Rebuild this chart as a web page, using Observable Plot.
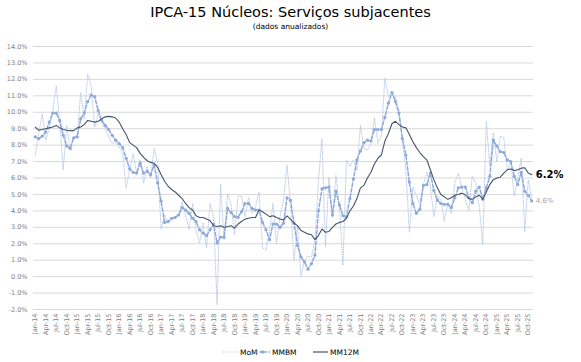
<!DOCTYPE html>
<html><head><meta charset="utf-8">
<script src="https://cdn.jsdelivr.net/npm/d3@7"></script>
<script src="https://cdn.jsdelivr.net/npm/@observablehq/plot@0.6"></script>
<style>
body{margin:0;background:#fff;}
#wrap{position:relative;width:581px;height:362px;font-family:"DejaVu Sans",Verdana,sans-serif;overflow:hidden;}
#title{position:absolute;top:4px;left:0;width:581px;text-align:center;font-size:14.5px;color:#000;line-height:17px;}
#subtitle{position:absolute;top:22px;left:0;width:581px;text-align:center;font-size:7.5px;color:#000;line-height:9px;}
#chart{position:absolute;top:0;left:0;}
#legend{position:absolute;top:346px;left:0;width:581px;height:12px;font-size:7.5px;color:#000;}
.li{position:absolute;top:0;display:flex;align-items:center;height:12px;}
.li svg{margin-right:2px;}
</style></head>
<body><div id="wrap">
<div id="chart"></div>
<div id="title">IPCA-15 Núcleos: Serviços subjacentes</div>
<div id="subtitle">(dados anualizados)</div>
<div id="legend"></div>
</div>
<script>
const monthNames = ["Jan","Feb","Mar","Apr","May","Jun","Jul","Aug","Sep","Oct","Nov","Dec"];
const years = ["14","15","16","17","18","19","20","21","22","23","24","25"];
const months = [];
years.forEach(y => monthNames.forEach(m => months.push(m + "-" + y)));
months.splice(months.indexOf("Nov-25") + 1);
const tickLabels = months.filter(m => /^(Jan|Apr|Jul|Oct)-/.test(m));
const yTicks = [-2,-1,0,1,2,3,4,5,6,7,8,9,10,11,12,13,14];

const mom = [
 7.4, 8.7, 9.9, 8.3, 9.0, 10.0, 11.6, 9.5, 6.5, 9.2, 7.7, 8.5,
 8.6, 11.2, 9.6, 12.3, 11.6, 9.1, 9.9, 9.4, 9.0, 8.5, 8.1, 8.2,
 7.9, 7.5, 5.4, 6.5, 7.5, 6.3, 7.1, 5.7, 6.7, 6.0, 7.8, 6.9,
 2.9, 3.75, 3.25, 3.45, 3.65, 3.75, 4.55, 3.75, 2.85, 4.45, 2.85, 2.05,
 3.25, 1.75, 4.45, 3.65, -1.7, 5.6, 2.25, 5.05, 4.4, 2.55, 4.9, 4.9,
 3.65, 4.8, 3.85, 4.25, 5.15, 1.75, 1.6, 2.75, 4.45, 2.0, 3.65, 4.65,
 6.8, 4.45, 1.0, 3.05, 0.0, 1.0, 1.25, 1.2, 2.2, 5.85, 8.4, 1.8,
 6.05, 3.6, 6.15, 4.25, 0.7, 7.1, 6.7, 7.1, 6.45, 9.2, 7.8, 7.7,
 8.1, 9.65, 8.1, 8.6, 12.1, 10.95, 11.25, 10.95, 10.15, 8.3, 6.5, 2.7,
 5.45, 4.9, 4.45, 5.6, 6.35, 5.5, 3.65, 4.9, 4.7, 3.35, 4.5, 3.85,
 5.7, 6.3, 5.4, 4.7, 4.05, 6.1, 5.7, 4.2, 1.95, 9.45, 6.7, 8.75,
 7.0, 8.55, 8.45, 6.5, 6.9, 4.9, 6.0, 7.2, 2.75, 5.9, 4.7
];
const mmbm = [
 8.5, 8.4, 8.55, 8.8, 9.4, 9.95, 9.95, 9.5, 8.6, 7.95, 7.8, 8.45,
 8.5, 9.6, 9.95, 10.65, 11.05, 10.95, 10.1, 9.5, 9.2, 8.95, 8.6, 8.3,
 8.1, 7.85, 7.2, 6.55, 6.35, 6.3, 6.9, 6.3, 6.4, 6.2, 6.8, 5.7,
 4.6, 3.3, 3.35, 3.55, 3.6, 3.75, 4.2, 4.05, 3.85, 3.55, 3.35, 2.85,
 2.65, 2.5, 2.85, 3.2, 2.05, 2.4, 2.4, 4.15, 3.9, 3.65, 3.6, 3.95,
 4.45, 4.45, 4.15, 4.05, 4.05, 3.3, 2.85, 2.25, 3.2, 3.2, 3.0, 3.25,
 4.8, 4.65, 3.25, 1.9, 1.2, 0.9, 0.45, 0.8, 1.3, 4.0, 5.35, 5.4,
 5.45, 3.75, 5.2, 4.35, 3.7, 3.65, 4.75, 5.95, 7.1, 7.65, 8.15, 8.3,
 8.25, 8.95, 8.95, 8.95, 9.7, 10.55, 11.2, 10.65, 9.95, 8.4, 7.4, 5.75,
 4.45, 3.85, 4.1, 5.55, 5.6, 6.3, 5.25, 4.65, 4.45, 4.4, 4.4, 4.2,
 4.8, 5.4, 5.45, 5.45, 4.8, 4.5, 5.2, 5.45, 4.7, 5.4, 6.1, 8.3,
 7.95, 7.6, 7.55, 7.1, 7.0, 6.1, 5.6, 6.35, 5.2, 4.95, 4.6
];
const mm12m = [
 9.1, 8.9, 8.95, 9.0, 9.05, 9.1, 9.2, 9.05, 8.95, 8.9, 8.88, 8.88,
 9.05, 9.1, 9.25, 9.5, 9.45, 9.4, 9.45, 9.6, 9.72, 9.75, 9.72, 9.65,
 9.4, 9.0, 8.65, 8.15, 8.0, 7.85, 7.5, 7.25, 7.05, 6.95, 6.9, 6.65,
 6.2, 5.8, 5.5, 5.3, 5.15, 4.95, 4.75, 4.45, 4.2, 4.05, 3.7, 3.6,
 3.6, 3.5, 3.4, 3.1, 3.05, 3.1, 3.0, 3.05, 3.1, 2.95, 3.2, 3.35,
 3.5, 3.55, 3.6, 3.6, 4.05, 3.95, 3.8, 3.65, 3.7, 3.6, 3.5, 3.45,
 3.7, 3.5, 3.25, 3.1, 2.8, 2.7, 2.6, 2.55, 2.25, 2.5, 2.9, 2.7,
 2.75, 3.0, 3.2, 3.3, 3.35, 3.55, 4.0, 4.3, 4.75, 5.4, 5.55, 6.0,
 6.35, 6.85, 7.2, 7.4, 8.25, 8.7, 9.3, 9.45, 9.25, 9.1, 9.05, 8.65,
 8.2, 7.85, 7.55, 7.3, 7.1, 6.5, 5.9, 5.4, 5.0, 4.85, 4.7, 4.8,
 4.95, 5.0, 5.08, 4.98, 4.75, 4.7, 4.85, 4.95, 4.7, 5.15, 5.6, 5.9,
 6.0, 6.05, 6.3, 6.5, 6.55, 6.45, 6.5, 6.6, 6.62, 6.3, 6.2
];
const seriesNames = ["MoM", "MMBM", "MM12M"];
const colors = {MoM: "#b4c7e7", MMBM: "#8eaadb", MM12M: "#44546a"};

const data = months.map((m, i) => ({m, mom: mom[i], mmbm: mmbm[i], mm12m: mm12m[i]}));
const last = data[data.length - 1];
const pct = v => v.toFixed(1) + "%";

const chart = Plot.plot({
  width: 581, height: 362,
  marginLeft: 33, marginRight: 48, marginTop: 46, marginBottom: 53,
  style: {fontFamily: "'DejaVu Sans', Verdana, sans-serif", background: "transparent", overflow: "visible"},
  x: {type: "point", domain: months, padding: 0.5, axis: null, label: null},
  y: {domain: [-2, 14], axis: null, label: null},
  marks: [
    Plot.gridY(yTicks, {stroke: "#d9d9d9", strokeOpacity: 1, strokeWidth: 1}),
    Plot.axisY(yTicks, {label: null, tickSize: 0, tickPadding: 6, tickFormat: pct, fontSize: 6.5, fill: "#808080"}),
    Plot.axisX(tickLabels, {label: null, tickSize: 0, tickPadding: 4, tickRotate: -90, fontSize: 6.5, fill: "#808080"}),
    Plot.lineY(data, {x: "m", y: "mom", stroke: colors.MoM, strokeWidth: 0.9, strokeDasharray: "1,1.4"}),
    Plot.lineY(data, {x: "m", y: "mmbm", stroke: colors.MMBM, strokeWidth: 1.5, strokeDasharray: "3.5,2"}),
    Plot.dot(data, {x: "m", y: "mmbm", r: 1.6, fill: colors.MMBM, stroke: "none"}),
    Plot.lineY(data, {x: "m", y: "mm12m", stroke: colors.MM12M, strokeWidth: 1.1}),
    Plot.text([last], {x: "m", y: "mm12m", text: d => pct(d.mm12m), dx: 4, textAnchor: "start", fontSize: 10, fontWeight: "bold", fill: "#000"}),
    Plot.text([last], {x: "m", y: "mmbm", text: d => pct(d.mmbm), dx: 4, textAnchor: "start", fontSize: 7, fill: "#a6a6a6"})
  ]
});
document.getElementById("chart").appendChild(chart);

// legend
const legend = document.getElementById("legend");
const legendX = {MoM: 223, MMBM: 255, MM12M: 313};
seriesNames.forEach(name => {
  const d = document.createElement("div");
  d.className = "li";
  d.style.left = legendX[name] + "px";
  let sym;
  if (name === "MoM") sym = `<svg width="15" height="8"><line x1="0" x2="15" y1="4" y2="4" stroke="${colors.MoM}" stroke-width="1" stroke-dasharray="1,1.4"/></svg>`;
  else if (name === "MMBM") sym = `<svg width="15" height="8"><line x1="0" x2="15" y1="4" y2="4" stroke="${colors.MMBM}" stroke-width="1.5" stroke-dasharray="3,1.5"/><circle cx="7.5" cy="4" r="1.8" fill="${colors.MMBM}"/></svg>`;
  else sym = `<svg width="15" height="8"><line x1="0" x2="15" y1="4" y2="4" stroke="${colors.MM12M}" stroke-width="1.2"/></svg>`;
  d.innerHTML = sym + `<span>${name}</span>`;
  legend.appendChild(d);
});
</script>
</body></html>
